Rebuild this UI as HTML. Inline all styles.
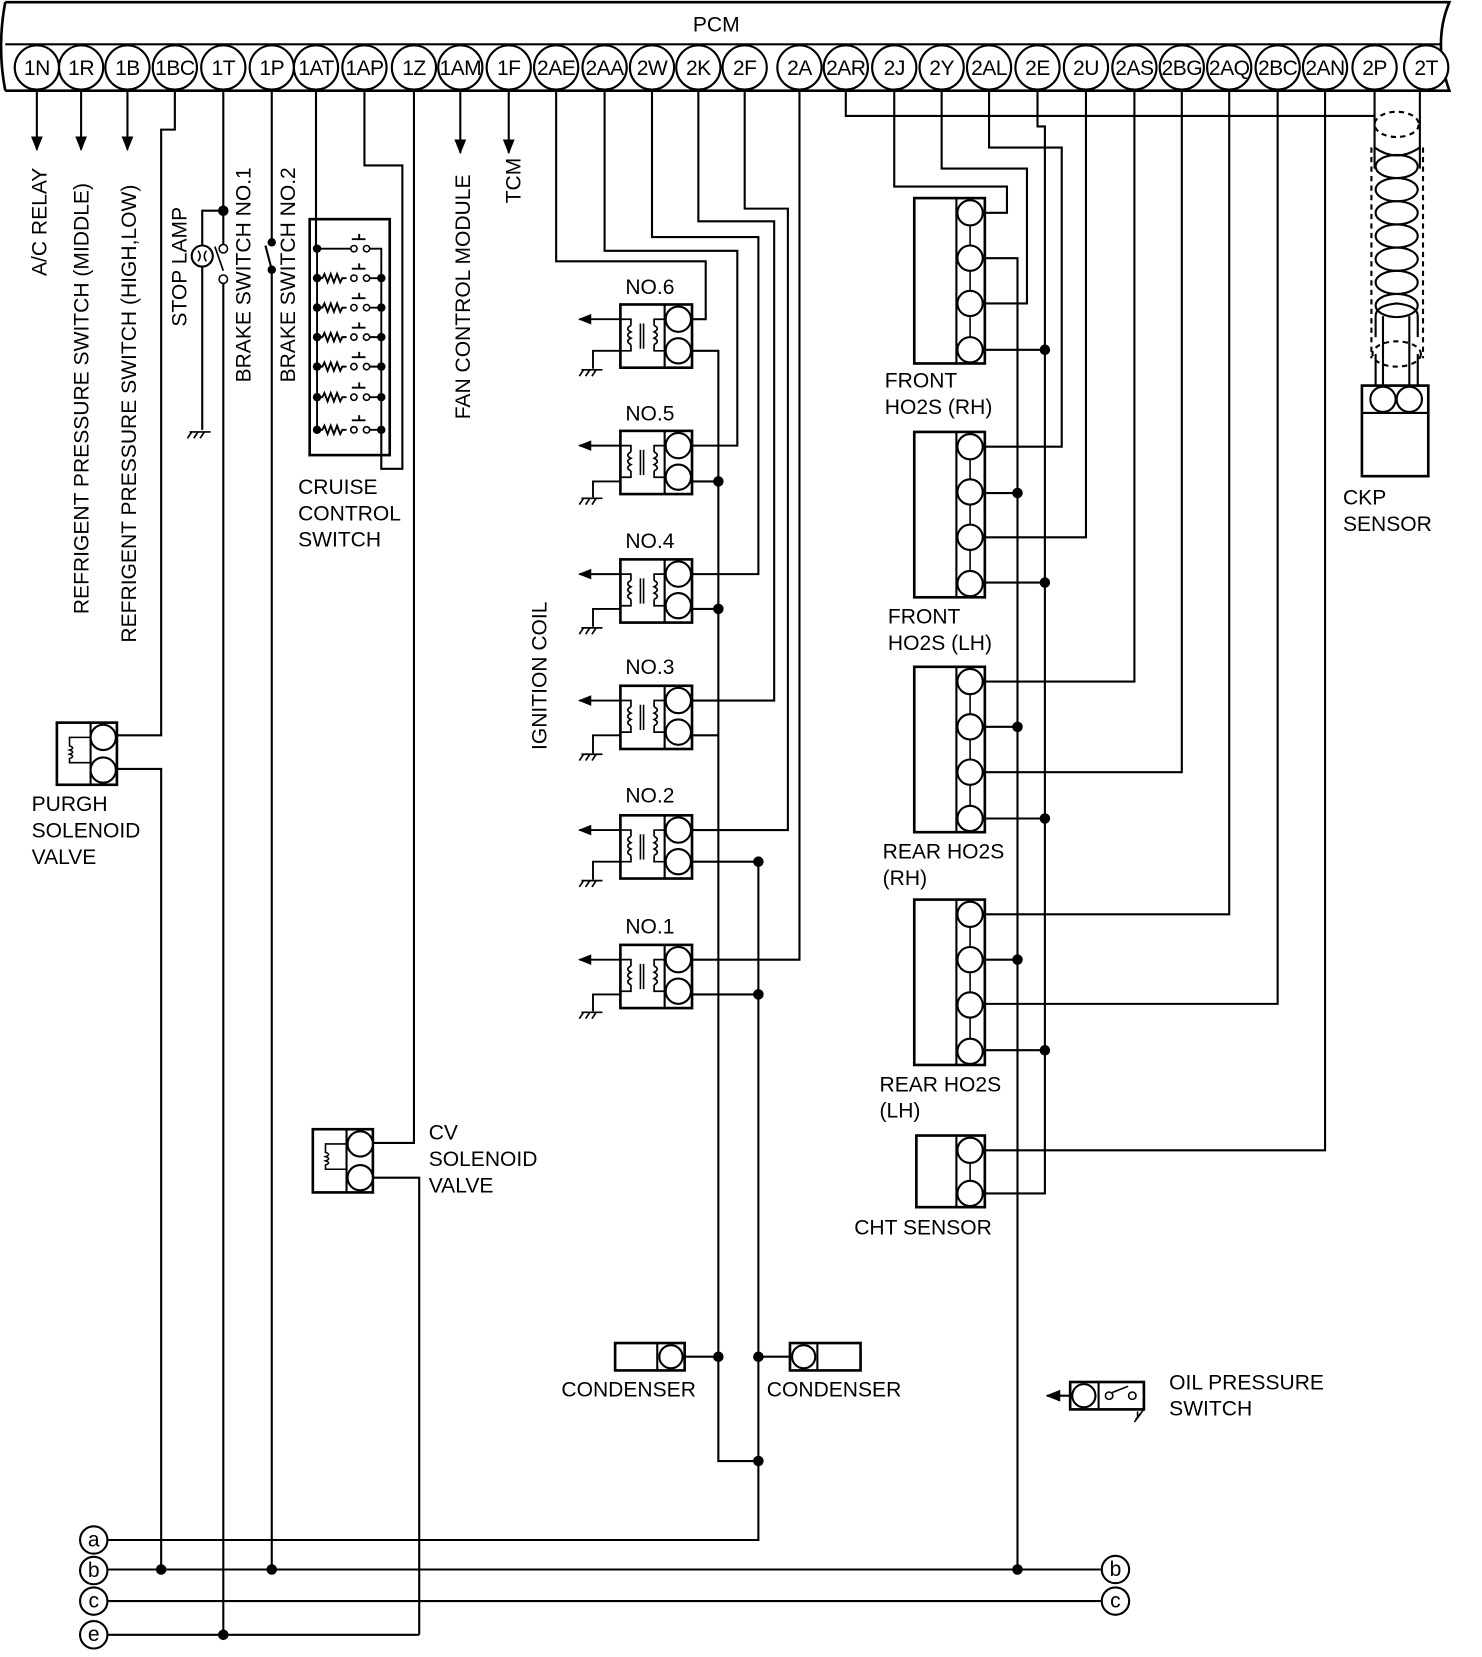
<!DOCTYPE html>
<html><head><meta charset="utf-8"><style>
html,body{margin:0;padding:0;background:#fff}
svg{display:block}
text{font-family:"Liberation Sans",Arial,sans-serif;fill:#000}
</style></head><body>
<svg width="1482" height="1657" viewBox="0 0 1407 1573" xmlns="http://www.w3.org/2000/svg">
<defs>
<marker id="ar" viewBox="0 0 10 10" refX="9" refY="5" markerWidth="7" markerHeight="7" orient="auto"><path d="M0,1 L10,5 L0,9 z" fill="#000"/></marker>
<g id="coil">
 <rect x="0" y="0" width="68" height="60" fill="#fff" stroke="#000" stroke-width="2.5"/>
 <line x1="42" y1="0" x2="42" y2="60" stroke="#000" stroke-width="2"/>
 <circle cx="55" cy="14" r="12" fill="#fff" stroke="#000" stroke-width="2"/>
 <circle cx="55" cy="44" r="12" fill="#fff" stroke="#000" stroke-width="2"/>
 <path d="M0,14 H10 V20 M0,44 H10 V38 M10,20 q-6,3 0,6 q-6,3 0,6 q-6,3 0,6" fill="none" stroke="#000" stroke-width="1.6"/>
 <path d="M42,14 H32 V20 M42,44 H32 V38 M32,20 q6,3 0,6 q6,3 0,6 q6,3 0,6" fill="none" stroke="#000" stroke-width="1.6"/>
 <line x1="19" y1="18" x2="19" y2="42" stroke="#000" stroke-width="1.5"/>
 <line x1="22" y1="18" x2="22" y2="42" stroke="#000" stroke-width="1.5"/>
</g>
<g id="gnd"><path d="M-8,0 H12 M-6,0 l-4,6 M0,0 l-4,6 M6,0 l-4,6" stroke="#000" stroke-width="1.6" fill="none"/></g>
<g id="ho2s">
 <rect x="0" y="0" width="67" height="157" fill="#fff" stroke="#000" stroke-width="2.5"/>
 <line x1="40" y1="0" x2="40" y2="157" stroke="#000" stroke-width="2"/>
 <line x1="53" y1="14" x2="53" y2="144" stroke="#000" stroke-width="1.5"/>
 <circle cx="53" cy="14" r="12" fill="#fff" stroke="#000" stroke-width="2"/>
 <circle cx="53" cy="57" r="12" fill="#fff" stroke="#000" stroke-width="2"/>
 <circle cx="53" cy="100" r="12" fill="#fff" stroke="#000" stroke-width="2"/>
 <circle cx="53" cy="144" r="12" fill="#fff" stroke="#000" stroke-width="2"/>
</g>
</defs>

<!-- PCM -->
<path d="M5,2 H1376 Q1360,40 1376,86 H5" fill="none" stroke="#000" stroke-width="2.5"/>
<path d="M5,2 Q-3,44 5,86" fill="none" stroke="#000" stroke-width="2.5"/>
<line x1="5" y1="42" x2="1368" y2="42" stroke="#000" stroke-width="2"/>
<text x="680" y="30" font-size="20" text-anchor="middle">PCM</text>
<g stroke="#000" stroke-width="2" fill="#fff">
<circle cx="35" cy="64" r="21"/><circle cx="77" cy="64" r="21"/><circle cx="121" cy="64" r="21"/><circle cx="166" cy="64" r="21"/><circle cx="212" cy="64" r="21"/><circle cx="258" cy="64" r="21"/><circle cx="300" cy="64" r="21"/><circle cx="346" cy="64" r="21"/><circle cx="393" cy="64" r="21"/><circle cx="437" cy="64" r="21"/><circle cx="483" cy="64" r="21"/><circle cx="528" cy="64" r="21"/><circle cx="574" cy="64" r="21"/><circle cx="619" cy="64" r="21"/><circle cx="663" cy="64" r="21"/><circle cx="707" cy="64" r="21"/><circle cx="759" cy="64" r="21"/><circle cx="803" cy="64" r="21"/><circle cx="849" cy="64" r="21"/><circle cx="894" cy="64" r="21"/><circle cx="939" cy="64" r="21"/><circle cx="985" cy="64" r="21"/><circle cx="1031" cy="64" r="21"/><circle cx="1077" cy="64" r="21"/><circle cx="1122" cy="64" r="21"/><circle cx="1167" cy="64" r="21"/><circle cx="1213" cy="64" r="21"/><circle cx="1258" cy="64" r="21"/><circle cx="1305" cy="64" r="21"/><circle cx="1354" cy="64" r="21"/>
</g>
<g font-size="20" text-anchor="middle" letter-spacing="-0.5">
<text x="35" y="71">1N</text><text x="77" y="71">1R</text><text x="121" y="71">1B</text><text x="166" y="71">1BC</text><text x="212" y="71">1T</text><text x="258" y="71">1P</text><text x="300" y="71">1AT</text><text x="346" y="71">1AP</text><text x="393" y="71">1Z</text><text x="437" y="71">1AM</text><text x="483" y="71">1F</text><text x="528" y="71">2AE</text><text x="574" y="71">2AA</text><text x="619" y="71">2W</text><text x="663" y="71">2K</text><text x="707" y="71">2F</text><text x="759" y="71">2A</text><text x="803" y="71">2AR</text><text x="849" y="71">2J</text><text x="894" y="71">2Y</text><text x="939" y="71">2AL</text><text x="985" y="71">2E</text><text x="1031" y="71">2U</text><text x="1077" y="71">2AS</text><text x="1122" y="71">2BG</text><text x="1167" y="71">2AQ</text><text x="1213" y="71">2BC</text><text x="1258" y="71">2AN</text><text x="1305" y="71">2P</text><text x="1354" y="71">2T</text>
</g>

<g stroke="#000" stroke-width="2" fill="none">
<line x1="35" y1="86" x2="35" y2="142" marker-end="url(#ar)"/>
<line x1="77" y1="86" x2="77" y2="142" marker-end="url(#ar)"/>
<line x1="121" y1="86" x2="121" y2="142" marker-end="url(#ar)"/>
<line x1="437" y1="86" x2="437" y2="145" marker-end="url(#ar)"/>
<line x1="483" y1="86" x2="483" y2="145" marker-end="url(#ar)"/>
<path d="M166,86 V123 H153 V698 H111"/>
<path d="M111,730 H153 V1490"/>
<path d="M212,86 V232"/><path d="M212,268 V1552"/>
<path d="M212,200 H192 V233"/><path d="M192,253 V408"/>
<path d="M258,86 V230"/><path d="M258,256 V1490"/>
<path d="M258,256 L252,233"/>
<path d="M300,86 V236"/>
<path d="M346,86 V157 H382 V445 H362 V408"/>
<path d="M393,86 V1085 H355"/>
<path d="M355,1118 H398 V1552"/>
<path d="M528,86 V248 H670 V303 H657"/>
<path d="M574,86 V238 H700 V423 H657"/>
<path d="M619,86 V225 H720 V545 H657"/>
<path d="M663,86 V210 H735 V665 H657"/>
<path d="M707,86 V198 H748 V788 H657"/>
<path d="M759,86 V911 H657"/>
<path d="M657,333 H682 V1387 H720"/>
<path d="M657,457 H682 M657,578 H682 M657,698 H682"/>
<path d="M657,818 H720 M657,944 H720"/>
<path d="M720,818 V1462 H103"/>
<path d="M650,1288 H682 M720,1288 H750"/>
<path d="M803,86 V110 H1305"/>
<path d="M849,86 V177 H956 V202 H935"/>
<path d="M894,86 V160 H975 V288 H935"/>
<path d="M935,245 H966 V1490"/>
<path d="M939,86 V140 H1008 V424 H935"/>
<path d="M985,86 V120 H992 V1133 H935"/>
<path d="M935,332 H992 M935,468 H966 M935,553 H992 M935,690 H966 M935,777 H992 M935,911 H966 M935,997 H992"/>
<path d="M1031,86 V510 H935"/>
<path d="M1077,86 V647 H935"/>
<path d="M1122,86 V733 H935"/>
<path d="M1167,86 V868 H935"/>
<path d="M1213,86 V953 H935"/>
<path d="M1258,86 V1092 H935"/>
<path d="M1305,86 V160 M1348,86 V160"/>
<path d="M1313,300 V366 M1338,300 V366"/>
<path d="M103,1490 H1045 M103,1520 H1045 M103,1552 H398"/>
<path d="M1016,1325 H994" marker-end="url(#ar)"/>
</g>

<g fill="#000">
<circle cx="212" cy="200" r="5"/><circle cx="258" cy="230" r="4"/><circle cx="258" cy="256" r="4"/>
<circle cx="682" cy="457" r="5"/><circle cx="682" cy="578" r="5"/><circle cx="682" cy="1288" r="5"/>
<circle cx="720" cy="818" r="5"/><circle cx="720" cy="944" r="5"/><circle cx="720" cy="1288" r="5"/><circle cx="720" cy="1387" r="5"/>
<circle cx="992" cy="332" r="5"/><circle cx="992" cy="553" r="5"/><circle cx="992" cy="777" r="5"/><circle cx="992" cy="997" r="5"/>
<circle cx="966" cy="468" r="5"/><circle cx="966" cy="690" r="5"/><circle cx="966" cy="911" r="5"/><circle cx="966" cy="1490" r="5"/>
<circle cx="153" cy="1490" r="5"/><circle cx="258" cy="1490" r="5"/><circle cx="212" cy="1552" r="5"/>
</g>

<circle cx="192" cy="243" r="10" fill="#fff" stroke="#000" stroke-width="2"/>
<path d="M188,238 q4,5 0,10 M196,238 q-4,5 0,10" stroke="#000" stroke-width="1.5" fill="none"/>
<use href="#gnd" x="188" y="410"/>
<circle cx="212" cy="236" r="4" fill="#fff" stroke="#000" stroke-width="1.5"/>
<circle cx="212" cy="265" r="4" fill="#fff" stroke="#000" stroke-width="1.5"/>
<path d="M212,257 L204,234" stroke="#000" stroke-width="1.6"/>

<rect x="294" y="208" width="76" height="224" fill="none" stroke="#000" stroke-width="2.5"/>
<g stroke="#000" stroke-width="1.8" fill="none">
<path d="M301,236 V408 M362,245 V408"/>
<path d="M301,236 H334 M345,236 H362 V245"/>
<path d="M301,264 h5 l2,-4 l3,8 l3,-8 l3,8 l3,-8 l3,8 l2,-4 h4 M345,264 H362"/>
<path d="M301,292 h5 l2,-4 l3,8 l3,-8 l3,8 l3,-8 l3,8 l2,-4 h4 M345,292 H362"/>
<path d="M301,320 h5 l2,-4 l3,8 l3,-8 l3,8 l3,-8 l3,8 l2,-4 h4 M345,320 H362"/>
<path d="M301,348 h5 l2,-4 l3,8 l3,-8 l3,8 l3,-8 l3,8 l2,-4 h4 M345,348 H362"/>
<path d="M301,377 h5 l2,-4 l3,8 l3,-8 l3,8 l3,-8 l3,8 l2,-4 h4 M345,377 H362"/>
<path d="M301,408 h5 l2,-4 l3,8 l3,-8 l3,8 l3,-8 l3,8 l2,-4 h4 M345,408 H362"/>
<path d="M334,227 h13 M341,227 v-5 M334,255 h13 M341,255 v-5 M334,283 h13 M341,283 v-5 M334,311 h13 M341,311 v-5 M334,339 h13 M341,339 v-5 M334,368 h13 M341,368 v-5 M334,399 h13 M341,399 v-5"/>
</g>
<g fill="#fff" stroke="#000" stroke-width="1.5">
<circle cx="336" cy="236" r="3"/><circle cx="348" cy="236" r="3"/><circle cx="336" cy="264" r="3"/><circle cx="348" cy="264" r="3"/><circle cx="336" cy="292" r="3"/><circle cx="348" cy="292" r="3"/><circle cx="336" cy="320" r="3"/><circle cx="348" cy="320" r="3"/><circle cx="336" cy="348" r="3"/><circle cx="348" cy="348" r="3"/><circle cx="336" cy="377" r="3"/><circle cx="348" cy="377" r="3"/><circle cx="336" cy="408" r="3"/><circle cx="348" cy="408" r="3"/>
</g>
<g fill="#000">
<circle cx="301" cy="236" r="4"/><circle cx="301" cy="264" r="4"/><circle cx="301" cy="292" r="4"/><circle cx="301" cy="320" r="4"/><circle cx="301" cy="348" r="4"/><circle cx="301" cy="377" r="4"/><circle cx="301" cy="408" r="4"/>
<circle cx="362" cy="264" r="4"/><circle cx="362" cy="292" r="4"/><circle cx="362" cy="320" r="4"/><circle cx="362" cy="348" r="4"/><circle cx="362" cy="377" r="4"/><circle cx="362" cy="408" r="4"/>
</g>

<rect x="54" y="686" width="57" height="59" fill="#fff" stroke="#000" stroke-width="2.5"/>
<line x1="86" y1="686" x2="86" y2="745" stroke="#000" stroke-width="2"/>
<circle cx="98" cy="700" r="12" fill="#fff" stroke="#000" stroke-width="2"/>
<circle cx="98" cy="731" r="12" fill="#fff" stroke="#000" stroke-width="2"/>
<path d="M86,700 H66 V708 q6,2 0,4 q6,2 0,4 q6,2 0,4 V724 H86" fill="none" stroke="#000" stroke-width="1.5"/>
<rect x="297" y="1072" width="57" height="60" fill="#fff" stroke="#000" stroke-width="2.5"/>
<line x1="329" y1="1072" x2="329" y2="1132" stroke="#000" stroke-width="2"/>
<circle cx="342" cy="1086" r="12" fill="#fff" stroke="#000" stroke-width="2"/>
<circle cx="342" cy="1118" r="12" fill="#fff" stroke="#000" stroke-width="2"/>
<path d="M329,1086 H309 V1094 q6,2 0,4 q6,2 0,4 q6,2 0,4 V1110 H329" fill="none" stroke="#000" stroke-width="1.5"/>

<use href="#coil" x="589" y="289"/><use href="#coil" x="589" y="409"/><use href="#coil" x="589" y="531"/>
<use href="#coil" x="589" y="651"/><use href="#coil" x="589" y="774"/><use href="#coil" x="589" y="897"/>
<g stroke="#000" stroke-width="1.8" fill="none">
<path d="M589,303 H550" marker-end="url(#ar)"/><path d="M589,423 H550" marker-end="url(#ar)"/><path d="M589,545 H550" marker-end="url(#ar)"/>
<path d="M589,665 H550" marker-end="url(#ar)"/><path d="M589,788 H550" marker-end="url(#ar)"/><path d="M589,911 H550" marker-end="url(#ar)"/>
<path d="M589,333 H563 V350 M589,457 H563 V472 M589,578 H563 V595 M589,698 H563 V715 M589,818 H563 V835 M589,944 H563 V960"/>
</g>
<use href="#gnd" x="560" y="351"/><use href="#gnd" x="560" y="473"/><use href="#gnd" x="560" y="596"/><use href="#gnd" x="560" y="716"/><use href="#gnd" x="560" y="836"/><use href="#gnd" x="560" y="961"/>
<g font-size="20" text-anchor="middle">
<text x="617" y="279">NO.6</text><text x="617" y="399">NO.5</text><text x="617" y="520">NO.4</text><text x="617" y="640">NO.3</text><text x="617" y="762">NO.2</text><text x="617" y="886">NO.1</text>
</g>

<rect x="584" y="1275" width="66" height="26" fill="#fff" stroke="#000" stroke-width="2.5"/>
<line x1="624" y1="1275" x2="624" y2="1301" stroke="#000" stroke-width="2"/>
<circle cx="637" cy="1288" r="11" fill="#fff" stroke="#000" stroke-width="2"/>
<rect x="750" y="1275" width="67" height="26" fill="#fff" stroke="#000" stroke-width="2.5"/>
<line x1="776" y1="1275" x2="776" y2="1301" stroke="#000" stroke-width="2"/>
<circle cx="763" cy="1288" r="11" fill="#fff" stroke="#000" stroke-width="2"/>

<use href="#ho2s" x="868" y="188"/><use href="#ho2s" x="868" y="410"/><use href="#ho2s" x="868" y="633"/><use href="#ho2s" x="868" y="854"/>
<rect x="870" y="1078" width="65" height="68" fill="#fff" stroke="#000" stroke-width="2.5"/>
<line x1="908" y1="1078" x2="908" y2="1146" stroke="#000" stroke-width="2"/>
<line x1="921" y1="1092" x2="921" y2="1133" stroke="#000" stroke-width="1.5"/>
<circle cx="921" cy="1092" r="12" fill="#fff" stroke="#000" stroke-width="2"/>
<circle cx="921" cy="1133" r="12" fill="#fff" stroke="#000" stroke-width="2"/>

<g stroke="#000" stroke-width="2" fill="none">
<path d="M1305,140 Q1326,155 1348,140"/>
<ellipse cx="1326" cy="118" rx="21" ry="12" stroke-dasharray="5,4"/>
<line x1="1302" y1="140" x2="1302" y2="340" stroke-dasharray="5,4"/>
<line x1="1351" y1="140" x2="1351" y2="340" stroke-dasharray="5,4"/>
<ellipse cx="1326" cy="158" rx="20" ry="11"/><ellipse cx="1326" cy="180" rx="20" ry="11"/><ellipse cx="1326" cy="202" rx="20" ry="11"/><ellipse cx="1326" cy="224" rx="20" ry="11"/><ellipse cx="1326" cy="246" rx="20" ry="11"/><ellipse cx="1326" cy="268" rx="20" ry="11"/><ellipse cx="1326" cy="290" rx="20" ry="11"/>
<path d="M1306,320 V300 Q1306,290 1326,288 Q1346,290 1346,300 V320"/>
<ellipse cx="1326" cy="336" rx="23" ry="12" stroke-dasharray="5,4"/>
<path d="M1306,336 V366 M1346,336 V366"/>
</g>
<rect x="1293" y="366" width="63" height="86" fill="#fff" stroke="#000" stroke-width="2.5"/>
<line x1="1293" y1="392" x2="1356" y2="392" stroke="#000" stroke-width="2"/>
<line x1="1313" y1="379" x2="1338" y2="379" stroke="#000" stroke-width="1.5"/>
<circle cx="1313" cy="379" r="12" fill="#fff" stroke="#000" stroke-width="2"/>
<circle cx="1338" cy="379" r="12" fill="#fff" stroke="#000" stroke-width="2"/>

<rect x="1016" y="1312" width="70" height="26" fill="#fff" stroke="#000" stroke-width="2.5"/>
<line x1="1043" y1="1312" x2="1043" y2="1338" stroke="#000" stroke-width="2"/>
<circle cx="1029" cy="1325" r="11" fill="#fff" stroke="#000" stroke-width="2"/>
<circle cx="1053" cy="1325" r="3.5" fill="#fff" stroke="#000" stroke-width="1.5"/>
<circle cx="1075" cy="1325" r="3.5" fill="#fff" stroke="#000" stroke-width="1.5"/>
<path d="M1056,1322 L1071,1316 M1086,1338 l-8,10 M1083,1342 l-6,8 M1080,1346 v-6" stroke="#000" stroke-width="1.5" fill="none"/>

<g fill="#fff" stroke="#000" stroke-width="2">
<circle cx="89" cy="1462" r="13"/><circle cx="89" cy="1491" r="13"/><circle cx="89" cy="1520" r="13"/><circle cx="89" cy="1552" r="13"/>
<circle cx="1059" cy="1490" r="13"/><circle cx="1059" cy="1520" r="13"/>
</g>
<g font-size="20" text-anchor="middle">
<text x="89" y="1468">a</text><text x="89" y="1497">b</text><text x="89" y="1526">c</text><text x="89" y="1558">e</text>
<text x="1059" y="1496">b</text><text x="1059" y="1526">c</text>
</g>

<g font-size="20">
<text transform="translate(44,262) rotate(-90)">A/C RELAY</text>
<text transform="translate(84,583) rotate(-90)">REFRIGENT PRESSURE SWITCH (MIDDLE)</text>
<text transform="translate(129,610) rotate(-90)">REFRIGENT PRESSURE SWITCH (HIGH,LOW)</text>
<text transform="translate(177,310) rotate(-90)">STOP LAMP</text>
<text transform="translate(238,363) rotate(-90)">BRAKE SWITCH NO.1</text>
<text transform="translate(280,363) rotate(-90)">BRAKE SWITCH NO.2</text>
<text transform="translate(446,398) rotate(-90)">FAN CONTROL MODULE</text>
<text transform="translate(494,193) rotate(-90)">TCM</text>
<text transform="translate(519,712) rotate(-90)">IGNITION COIL</text>
<text x="283" y="469">CRUISE</text><text x="283" y="494">CONTROL</text><text x="283" y="519">SWITCH</text>
<text x="30" y="770">PURGH</text><text x="30" y="795">SOLENOID</text><text x="30" y="820">VALVE</text>
<text x="407" y="1082">CV</text><text x="407" y="1107">SOLENOID</text><text x="407" y="1132">VALVE</text>
<text x="533" y="1326">CONDENSER</text><text x="728" y="1326">CONDENSER</text>
<text x="840" y="368">FRONT</text><text x="840" y="393">HO2S (RH)</text>
<text x="843" y="592">FRONT</text><text x="843" y="617">HO2S (LH)</text>
<text x="838" y="815">REAR HO2S</text><text x="838" y="840">(RH)</text>
<text x="835" y="1036">REAR HO2S</text><text x="835" y="1061">(LH)</text>
<text x="811" y="1172">CHT SENSOR</text>
<text x="1275" y="479">CKP</text><text x="1275" y="504">SENSOR</text>
<text x="1110" y="1319">OIL PRESSURE</text><text x="1110" y="1344">SWITCH</text>
</g>
</svg>
</body></html>
